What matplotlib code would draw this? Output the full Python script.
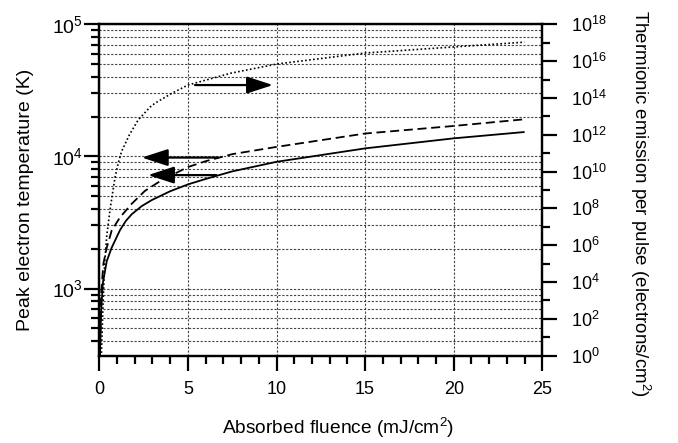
import numpy as np
import matplotlib
matplotlib.use("Agg")
import matplotlib.pyplot as plt
from matplotlib.ticker import LogLocator, MultipleLocator, NullFormatter, LogFormatterMathtext

plt.rcParams['font.family'] = ['Liberation Sans', 'DejaVu Sans']
plt.rcParams['mathtext.fontset'] = 'custom'
plt.rcParams['mathtext.rm'] = 'Liberation Sans'
plt.rcParams['mathtext.it'] = 'Liberation Sans:italic'
plt.rcParams['mathtext.bf'] = 'Liberation Sans:bold'

# Solid: peak electron temperature (K), set 1
fluence_solid = [0.03, 0.1, 0.2, 0.42, 0.70, 1.17, 1.5, 1.83, 2.39, 2.96, 4.0, 5.02, 6.0, 7.5, 10.0, 15.0, 20.0, 24.0]
temp_solid = [280, 650, 1100, 1610, 2040, 2770, 3250, 3650, 4200, 4670, 5450, 6150, 6750, 7700, 9100, 11500, 13700, 15300]

# Dashed: peak electron temperature (K), set 2
fluence_dashed = [0.03, 0.1, 0.23, 0.42, 0.70, 1.17, 1.83, 2.58, 3.52, 5.0, 6.0, 7.5, 10.0, 15.0, 20.0, 24.0]
temp_dashed = [280, 900, 1540, 2040, 2750, 3460, 4380, 5490, 6610, 8300, 9200, 10400, 11800, 14900, 17000, 19100]

# Dotted: thermionic emission per pulse (electrons/cm^2), right axis
fluence_dotted = [0.1, 0.2, 0.3, 0.42, 0.6, 0.89, 1.08, 1.26, 1.7, 2.19, 2.86, 3.15, 4.09, 5.0, 7.4, 10.0, 15.0, 20.0, 24.0]
log_emission_dotted = [-0.5, 2.5, 5.0, 6.5, 7.9, 9.7, 10.5, 11.1, 12.0, 12.8, 13.5, 13.72, 14.25, 14.7, 15.34, 15.84, 16.44, 16.77, 17.03]
emission_dotted = [10.0 ** v for v in log_emission_dotted]

fig = plt.figure(figsize=(6.78, 4.43), dpi=100)
ax = fig.add_axes([99.3 / 678, (443 - 355.7) / 443, (542.3 - 99.3) / 678, (355.7 - 24.3) / 443])
ax2 = ax.twinx()

ax.set_xlim(0, 25)
ax.set_yscale('log')
ax.set_ylim(310, 1e5)
ax2.set_yscale('log')
ax2.set_ylim(1, 1e18)

gridkw = dict(color='#444444', linestyle=(0, (2, 1.5)), linewidth=0.8)
ax.grid(True, which='both', axis='y', **gridkw)
ax.grid(True, which='major', axis='x', **gridkw)
ax.set_axisbelow(True)

ax.plot(fluence_solid, temp_solid, color='black', lw=1.3, solid_capstyle='butt')
ax.plot(fluence_dashed, temp_dashed, color='black', lw=1.3, linestyle=(0, (5, 2.6)))
ax2.plot(fluence_dotted, emission_dotted, color='black', lw=1.2, linestyle=(0, (1, 1.4)))

arrowkw = dict(arrowstyle='-|>,head_length=0.8,head_width=0.26', lw=1.6, color='black',
               mutation_scale=20, shrinkA=0, shrinkB=0)
ax2.annotate('', xy=(9.8, 10 ** 14.7), xytext=(5.4, 10 ** 14.7), arrowprops=arrowkw)
ax.annotate('', xy=(2.4, 9800), xytext=(6.7, 9800), arrowprops=arrowkw)
ax.annotate('', xy=(2.75, 7220), xytext=(6.6, 7220), arrowprops=arrowkw)

# ticks
ax.xaxis.set_major_locator(MultipleLocator(5))
ax.xaxis.set_minor_locator(MultipleLocator(1))
ax.yaxis.set_major_locator(LogLocator(base=10, numticks=10))
ax.yaxis.set_minor_locator(LogLocator(base=10, subs=np.arange(2, 10), numticks=20))
ax.yaxis.set_minor_formatter(NullFormatter())
ax.yaxis.set_major_formatter(LogFormatterMathtext())

ax2.yaxis.set_major_locator(LogLocator(base=100, numticks=20))
ax2.yaxis.set_minor_locator(LogLocator(base=10, subs=[1.0], numticks=30))
ax2.yaxis.set_minor_formatter(NullFormatter())
ax2.yaxis.set_major_formatter(LogFormatterMathtext(base=10))

for a in (ax, ax2):
    for s in a.spines.values():
        s.set_linewidth(1.6)
ax.tick_params(axis='both', which='major', direction='out', length=10.5, width=1.6)
ax.tick_params(axis='both', which='minor', direction='out', length=5.8, width=1.6)
ax.tick_params(axis='x', which='major', pad=8, labelsize=13)
ax.tick_params(axis='y', which='major', pad=1.5, labelsize=14)
ax2.tick_params(axis='y', which='major', direction='out', length=10.5, width=1.6, labelsize=13, pad=10)
ax2.tick_params(axis='y', which='minor', direction='out', length=5.8, width=1.6)

ax.set_xlabel('Absorbed fluence (mJ/cm$^2$)', fontsize=13.8)
ax.xaxis.set_label_coords(0.538, -0.182)
ax.set_ylabel('Peak electron temperature (K)', fontsize=14)
ax.yaxis.set_label_coords(-0.148, 0.47)

fig.text(640 / 678, 1 - 10 / 443, 'Thermionic emission per pulse (electrons/cm$^2$)',
         rotation=270, fontsize=13.5, ha='center', va='top')

fig.savefig('out.png', dpi=100)
